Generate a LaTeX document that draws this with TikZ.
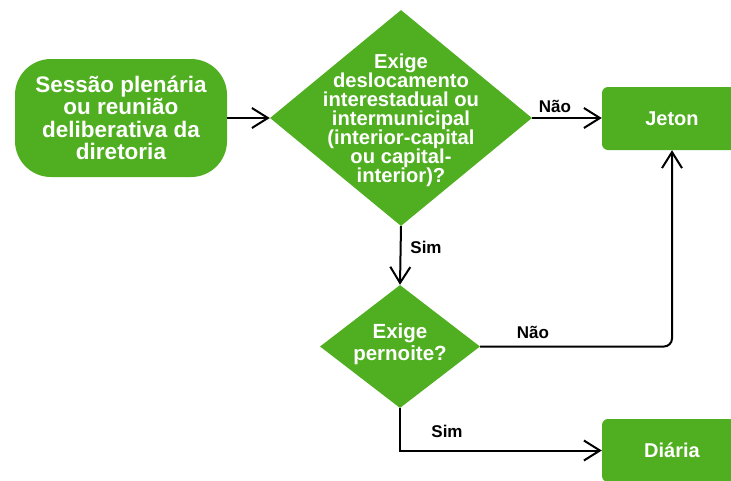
\documentclass[tikz,border=0pt]{standalone}
\usepackage{fontspec}
\setmainfont{Liberation Sans}
\usetikzlibrary{shapes.geometric,arrows.meta}
\definecolor{gr}{RGB}{80,175,32}
\begin{document}
\begin{tikzpicture}[x=1pt,y=-1pt,
  box/.style={fill=gr, draw=none, text=white, font=\bfseries\fontsize{20}{22}\selectfont, align=center, inner sep=0},
  dia/.style={shape=diamond, fill=gr, draw=none, inner sep=0},
  txt/.style={text=white, align=center, inner sep=0},
  conn/.style={draw=black, line width=2pt, -{Straight Barb[length=16pt,width=20pt,line width=2pt]}},
  lbl/.style={font=\bfseries\fontsize{17}{17}\selectfont, inner sep=0, anchor=base}]
\useasboundingbox (0,0) rectangle (731,480);
\clip (0,0) rectangle (731,480);
% nodes
\node[box, minimum width=212pt, minimum height=118pt, rounded corners=36pt, font=\bfseries\fontsize{22.5}{22.3}\selectfont] (start) at (121,118)
  {Sessão plenária\\ou reunião\\deliberativa da\\diretoria};
\node[dia, minimum width=262pt, minimum height=216pt] (d1) at (401,118) {};
\node[txt, font=\bfseries\fontsize{20.2}{18.9}\selectfont] (d1t) at (401,120)
  {Exige\\deslocamento\\interestadual ou\\intermunicipal\\(interior-capital\\ou capital-\\interior)?};
\node[box, minimum width=140pt, minimum height=63pt, rounded corners=6pt] (jet) at (672,118.5) {Jeton};
\node[dia, minimum width=160pt, minimum height=123pt] (d2) at (400,346.5) {};
\node[txt, font=\bfseries\fontsize{20.5}{22}\selectfont] (d2t) at (400,344) {Exige\\pernoite?};
\node[box, minimum width=140pt, minimum height=63pt, rounded corners=6pt] (dia) at (672,450.5) {Diária};
% connectors
\draw[conn] (start.east) -- (d1.west);
\draw[conn] (d1.east) -- (d1.east -| jet.west);
\draw[conn] (d1.south) -- (d2.north);
\draw[conn, rounded corners=8pt] (d2.east) -- (d2.east -| jet.south) -- (jet.south);
\draw[conn] (d2.south) -- (d2.south |- dia.west) -- (dia.west);
% labels
\node[lbl] (l1) at (555,112) {Não};
\node[lbl] (l2) at (426,253) {Sim};
\node[lbl] (l3) at (533,338) {Não};
\node[lbl] (l4) at (447,437) {Sim};
\end{tikzpicture}
\end{document}
